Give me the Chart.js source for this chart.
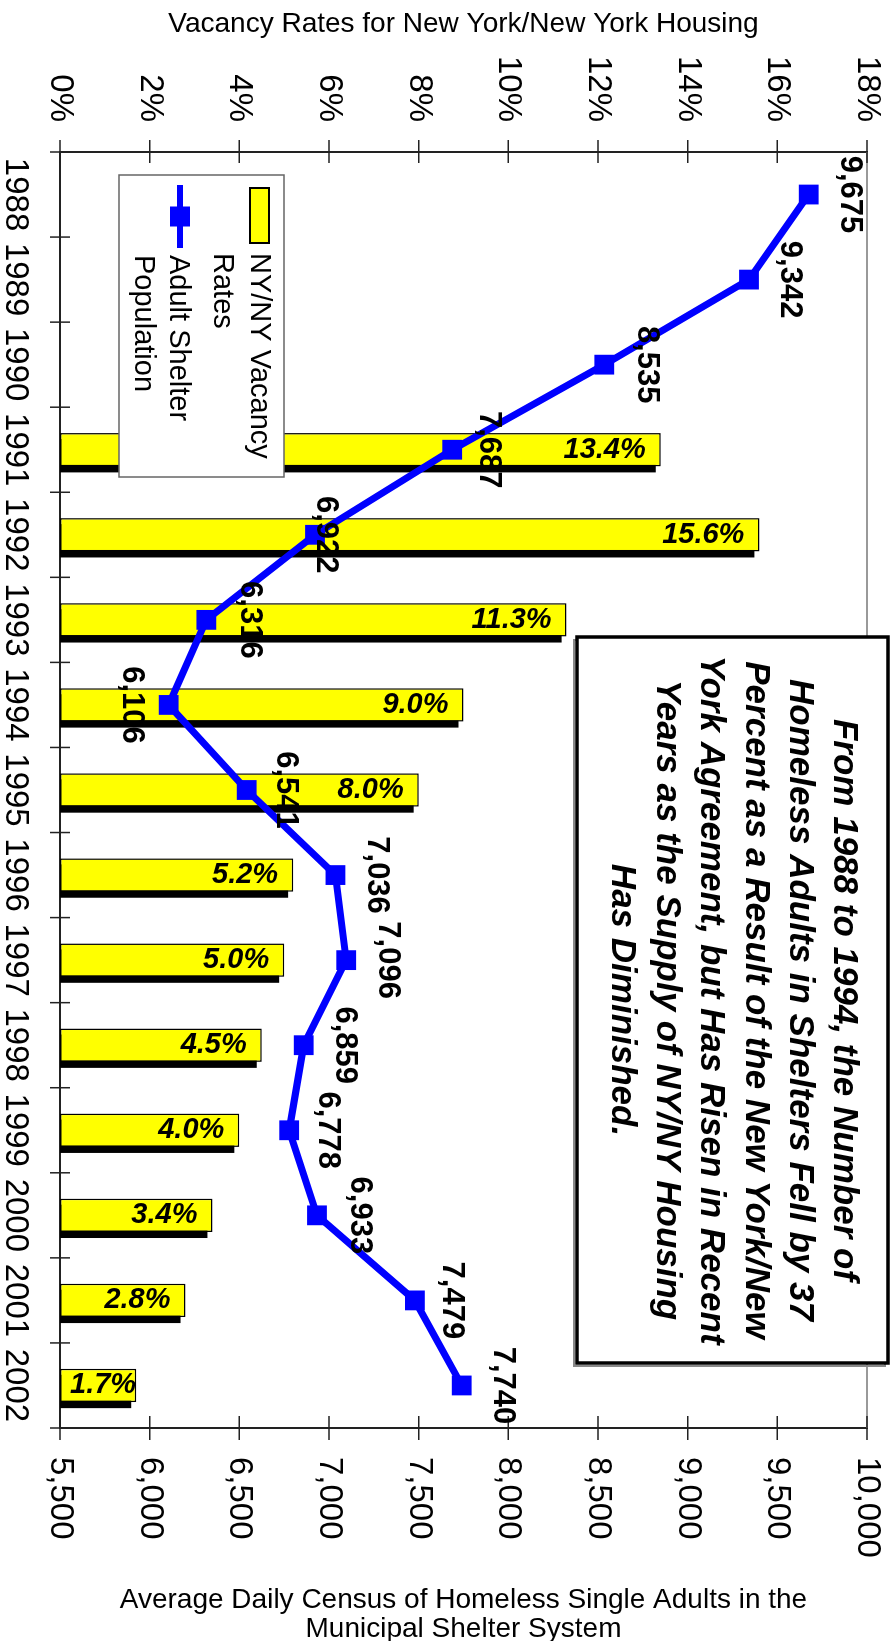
<!DOCTYPE html>
<html>
<head>
<meta charset="utf-8">
<script src="https://cdn.jsdelivr.net/npm/chart.js@4.4.1/dist/chart.umd.min.js"></script>
<style>
  html, body { margin: 0; padding: 0; background: #fff; overflow: hidden; }
  #page { position: relative; width: 890px; height: 1641px; overflow: hidden; background: #fff; }
  /* the chart is laid out landscape and turned a quarter clockwise onto the portrait page */
  #frame { position: absolute; left: 0; top: 0; width: 1641px; height: 890px;
           transform-origin: 0 0; transform: translateX(890px) rotate(90deg); }
</style>
</head>
<body>
<div id="page">
  <div id="frame"><canvas id="chart" width="1641" height="890"></canvas></div>
</div>
<script>
// ---- data ----
const years = ['1988', '1989', '1990', '1991', '1992', '1993', '1994', '1995',
               '1996', '1997', '1998', '1999', '2000', '2001', '2002'];
const vacancyRates = [null, null, null, 13.4, 15.6, 11.3, 9.0, 8.0,
                      5.2, 5.0, 4.5, 4.0, 3.4, 2.8, 1.7];
const shelterPopulation = [9675, 9342, 8535, 7687, 6922, 6316, 6106, 6541,
                           7036, 7096, 6859, 6778, 6933, 7479, 7740];
const rateAxis = { min: 0, max: 18, step: 2 };
const censusAxis = { min: 5500, max: 10000, step: 500 };

const seriesNames = { rates: ['NY/NY Vacancy', 'Rates'], shelter: ['Adult Shelter', 'Population'] };
const rateTitle = 'Vacancy Rates for New York/New York Housing';
const censusTitle = ['Average Daily Census of Homeless Single Adults in the', 'Municipal Shelter System'];
const noteLines = [
  'From 1988 to 1994, the Number of',
  'Homeless Adults in Shelters Fell by 37',
  'Percent as a Result of the New York/New',
  'York Agreement, but Has Risen in Recent',
  'Years as the Supply of NY/NY Housing',
  'Has Diminished.'
];

// distance of each census label from its marker (negative = other side)
const censusLabelLift = [41, 41, 42, 36, 11, 43, -37, 39, 41, 41, 41, 38, 43, 37, 41];

// ---- styling ----
const FAMILY = "'Liberation Sans', Arial, Helvetica, sans-serif";
const font = (size, weight = 'normal', style = 'normal') => `${style} ${weight} ${size}px ${FAMILY}`;
const YELLOW = '#FFFF00';
const BLUE = '#0000FF';
const AXIS = '#222';

Chart.defaults.font.family = FAMILY;
Chart.defaults.color = '#000';

// fixed axis bands so the plot area lands exactly where it should
function band(prop, size) {
  return s => {
    s[prop] = size;
    s.paddingTop = 0; s.paddingBottom = 0; s.paddingLeft = 0; s.paddingRight = 0;
  };
}

const decor = {
  id: 'housingDecor',
  beforeDatasetsDraw(chart) {
    const ctx = chart.ctx, a = chart.chartArea;
    const sx = chart.scales.x, sr = chart.scales.yRate, sc = chart.scales.yCensus;
    ctx.save();
    // light frame edge opposite the category axis
    ctx.strokeStyle = '#999'; ctx.lineWidth = 2;
    ctx.beginPath(); ctx.moveTo(a.left, a.top); ctx.lineTo(a.right, a.top); ctx.stroke();
    // crossing tick marks
    ctx.strokeStyle = AXIS; ctx.lineWidth = 1.5;
    ctx.beginPath();
    for (let v = rateAxis.min; v <= rateAxis.max; v += rateAxis.step) {
      const p = sr.getPixelForValue(v);
      ctx.moveTo(a.left - 12, p); ctx.lineTo(a.left + 11, p);
    }
    for (let v = censusAxis.min; v <= censusAxis.max; v += censusAxis.step) {
      const p = sc.getPixelForValue(v);
      ctx.moveTo(a.right - 12, p); ctx.lineTo(a.right + 12, p);
    }
    for (let k = 0; k <= years.length; k++) {
      const p = sx.getPixelForValue(k - 0.5);
      ctx.moveTo(p, a.bottom - 10); ctx.lineTo(p, a.bottom + 10);
    }
    ctx.stroke();
    // drop shadows behind the bars
    ctx.beginPath(); ctx.rect(a.left, a.top, a.right - a.left, a.bottom - a.top); ctx.clip();
    ctx.fillStyle = '#000';
    chart.getDatasetMeta(0).data.forEach((bar, i) => {
      if (vacancyRates[i] == null) return;
      const { x, y, base, width } = bar.getProps(['x', 'y', 'base', 'width'], true);
      ctx.fillRect(x - width / 2 + 6, y + 5, width, base - y);
    });
    ctx.restore();
  },
  afterDatasetsDraw(chart) {
    const ctx = chart.ctx, a = chart.chartArea;
    ctx.save();
    ctx.fillStyle = '#000';
    // rate labels inside the bars
    ctx.font = font(29, 'bold', 'italic');
    ctx.textAlign = 'right'; ctx.textBaseline = 'middle';
    chart.getDatasetMeta(0).data.forEach((bar, i) => {
      if (vacancyRates[i] == null) return;
      const txt = vacancyRates[i].toFixed(1) + '%';
      const w = ctx.measureText(txt).width;
      let anchor = bar.y + 15;
      if (anchor + w > a.bottom - 10) anchor = a.bottom - 10 - w;
      ctx.save();
      ctx.translate(bar.x, anchor);
      ctx.rotate(-Math.PI / 2);
      ctx.fillText(txt, 0, 0);
      ctx.restore();
    });
    // census labels next to the markers
    ctx.font = font(31, 'bold');
    ctx.textAlign = 'center'; ctx.textBaseline = 'middle';
    chart.getDatasetMeta(1).data.forEach((pt, i) => {
      ctx.fillText(shelterPopulation[i].toLocaleString('en-US'), pt.x, pt.y - censusLabelLift[i]);
    });

    // legend
    const bx = a.left + 23, by = a.bottom - 224, bw = 302, bh = 165;
    ctx.fillStyle = '#fff'; ctx.fillRect(bx, by, bw, bh);
    ctx.strokeStyle = '#666'; ctx.lineWidth = 1.5; ctx.strokeRect(bx, by, bw, bh);
    const ds = chart.data.datasets;
    ctx.fillStyle = ds[0].backgroundColor; ctx.fillRect(bx + 13, by + 15, 55, 19);
    ctx.strokeStyle = ds[0].borderColor; ctx.lineWidth = 2; ctx.strokeRect(bx + 13, by + 15, 55, 19);
    ctx.strokeStyle = ds[1].borderColor; ctx.lineWidth = 6;
    ctx.beginPath(); ctx.moveTo(bx + 10, by + 104); ctx.lineTo(bx + 73, by + 104); ctx.stroke();
    ctx.fillStyle = ds[1].pointBackgroundColor; ctx.fillRect(bx + 31.5, by + 94, 20, 20);
    ctx.fillStyle = '#000'; ctx.font = font(29);
    ctx.textAlign = 'left'; ctx.textBaseline = 'middle';
    ctx.fillText(seriesNames.rates[0], bx + 78, by + 25);
    ctx.fillText(seriesNames.rates[1], bx + 78, by + 62);
    ctx.fillText(seriesNames.shelter[0], bx + 80, by + 106);
    ctx.fillText(seriesNames.shelter[1], bx + 80, by + 141);
    ctx.restore();
  },
  afterDraw(chart) {
    const ctx = chart.ctx, a = chart.chartArea;
    ctx.save();
    // note box
    const nx = 637, ny = 2, nw = 726, nh = 311;
    ctx.strokeStyle = '#888'; ctx.lineWidth = 2;
    ctx.strokeRect(nx + 3, ny + 3, nw, nh);
    ctx.fillStyle = '#fff'; ctx.fillRect(nx, ny, nw, nh);
    ctx.strokeStyle = '#000'; ctx.lineWidth = 3.5; ctx.strokeRect(nx, ny, nw, nh);
    ctx.fillStyle = '#000'; ctx.font = font(35, 'bold', 'italic');
    ctx.textAlign = 'center'; ctx.textBaseline = 'middle';
    noteLines.forEach((t, k) => ctx.fillText(t, nx + nw / 2, 46 + k * 44.4));
    // census axis title
    ctx.font = font(28);
    ctx.translate(a.right + 172, (a.top + a.bottom) / 2);
    ctx.rotate(-Math.PI / 2);
    censusTitle.forEach((t, k) => ctx.fillText(t, 0, k * 29));
    ctx.restore();
  }
};

new Chart(document.getElementById('chart'), {
  data: {
    labels: years,
    datasets: [
      {
        type: 'bar', label: seriesNames.rates.join(' '), data: vacancyRates, yAxisID: 'yRate',
        backgroundColor: YELLOW, borderColor: '#000', borderWidth: 1.5, borderSkipped: false,
        categoryPercentage: 1, barPercentage: 0.392, order: 2
      },
      {
        type: 'line', label: seriesNames.shelter.join(' '), data: shelterPopulation, yAxisID: 'yCensus',
        borderColor: BLUE, borderWidth: 7, tension: 0,
        pointStyle: 'rect', pointRadius: 14, pointBackgroundColor: BLUE, pointBorderWidth: 0,
        order: 1
      }
    ]
  },
  options: {
    responsive: false, animation: false, devicePixelRatio: 1,
    layout: { padding: { top: 23, right: 0, left: 0, bottom: 0 } },
    plugins: { legend: { display: false }, tooltip: { enabled: false } },
    scales: {
      x: {
        type: 'category', position: 'bottom', offset: true,
        grid: { display: false, drawTicks: false },
        border: { display: true, color: AXIS, width: 2 },
        ticks: { font: { size: 33 }, color: '#000', padding: 25, autoSkip: false, maxRotation: 0, minRotation: 0 },
        afterFit: band('height', 60)
      },
      yRate: {
        type: 'linear', position: 'left', min: rateAxis.min, max: rateAxis.max,
        grid: { display: false, drawTicks: false },
        border: { display: true, color: AXIS, width: 2 },
        ticks: { stepSize: rateAxis.step, font: { size: 33 }, color: '#000', padding: 30,
                 callback: v => v + '%' },
        title: { display: true, text: rateTitle, font: { size: 28 }, color: '#000', padding: { top: 7, bottom: 0 } },
        afterFit: band('width', 152)
      },
      yCensus: {
        type: 'linear', position: 'right', min: censusAxis.min, max: censusAxis.max,
        grid: { display: false, drawTicks: false },
        border: { display: true, color: AXIS, width: 2 },
        ticks: { stepSize: censusAxis.step, font: { size: 33 }, color: '#000', padding: 29,
                 callback: v => v.toLocaleString('en-US') },
        afterFit: band('width', 213)
      }
    }
  },
  plugins: [decor]
});
</script>
</body>
</html>
